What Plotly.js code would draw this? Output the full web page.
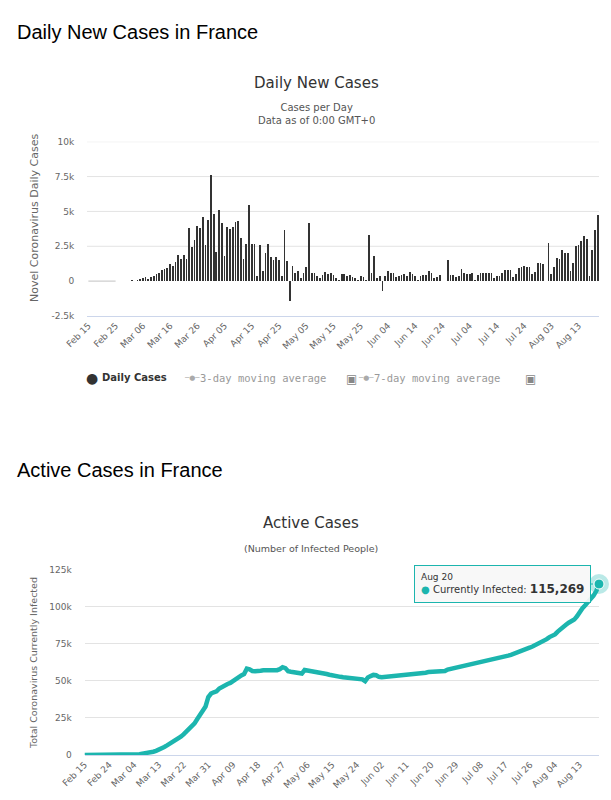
<!DOCTYPE html>
<html>
<head>
<meta charset="utf-8">
<script src="https://cdn.plot.ly/plotly-3.0.1.min.js"></script>
<style>html,body{margin:0;padding:0;background:#fff;}#chart{width:611px;height:800px;}</style>
</head>
<body>
<div id="chart"></div>
<script>
// ---------- DATA ----------
const startDate = '2020-02-15';

// Daily new cases (one value per day from Feb 15 to Aug 20)
const dailyCases = [
  0,0,0,0,0,0,0,0,0,0,0,
  10,20,20,40,30,60,20,
  73,140,190,330,180,290,
  370,500,600,780,840,920,1210,1100,1400,1860,1620,1850,1560,
  3840,2450,2930,3920,3810,4610,2600,4380,7580,
  4800,2100,5100,4200,1800,3900,3750,3850,4250,4300,3100,1600,2650,5450,2650,2650,
  400,2600,750,2000,2650,1750,1550,1700,1550,400,3700,1450,
  -1400,1100,600,750,250,550,1050,4150,600,600,400,250,
  450,650,500,550,450,250,50,500,500,350,450,300,200,50,350,300,100,
  3300,600,1800,250,350,-700,400,750,550,550,300,350,450,500,350,650,500,350,100,400,450,450,750,550,250,300,450,30,0,
  1500,450,450,300,400,850,600,500,500,550,100,450,550,550,600,600,600,250,400,400,550,800,800,800,300,500,950,1000,1100,1000,1000,500,650,1300,1300,1250,0,
  2750,500,1000,1650,1600,2250,2050,2050,750,1300,2500,2600,2850,3250,3000,400,2200,3700,4750
];

// Active (currently infected) cases, same days
const activeCases = [
  7,7,7,7,7,7,7,7,7,7,7,10,30,45,88,118,179,200,270,400,580,900,1080,
  1400,1700,2200,2800,3500,4400,5400,6500,7500,8500,9700,10900,12300,13900,
  15800,17900,19800,21300,24300,27000,30300,32700,39000,41400,42300,42900,44800,46000,
  46800,47900,48600,49900,51800,53100,53700,54600,58200,57700,56600,
  56400,56300,56800,57100,57000,56900,57000,56800,57200,57900,59200,58600,56500,56100,
  55900,55800,55600,54900,57300,57000,56800,56600,56400,56200,55700,55200,54600,54100,
  53600,53200,52900,52700,52400,52200,52000,51800,51600,51500,51300,51000,49800,
  52300,53200,54000,53800,52700,52500,52700,52800,52900,53000,53100,53200,53300,53400,
  53500,53700,54000,54200,54400,54600,55000,55500,55900,56100,56200,56300,56300,56400,56600,
  57600,58000,58300,58600,59100,59500,60000,60300,60700,61300,61600,62000,62400,62800,
  63100,63600,64100,64400,64700,65100,65700,66400,67000,67500,68100,68700,69300,70000,
  70800,71600,72500,73300,74100,75100,76200,77300,78100,79500,
  80500,81300,83200,85000,86500,87800,89200,90300,91300,93500,96500,99000,101000,103600,
  105300,107500,110500,115269
];

const dailyTickVals = [-2500, 0, 2500, 5000, 7500, 10000];
const dailyTickText = ['-2.5k', '0', '2.5k', '5k', '7.5k', '10k'];
const activeTickVals = [0, 25000, 50000, 75000, 100000, 125000];
const activeTickText = ['0', '25k', '50k', '75k', '100k', '125k'];
const monthNames = ['Jan','Feb','Mar','Apr','May','Jun','Jul','Aug','Sep','Oct','Nov','Dec'];

// ---------- BUILD ----------
function makeDates(start, n) {
  const t0 = new Date(start + 'T00:00:00Z').getTime();
  const out = [];
  for (let i = 0; i < n; i++) out.push(new Date(t0 + i * 864e5).toISOString().slice(0, 10));
  return out;
}
const dates = makeDates(startDate, dailyCases.length);
const activeDates = makeDates(startDate, activeCases.length);

// leading run of zero days (drawn as a flat light line)
let zeroRun = 0;
while (zeroRun < dailyCases.length && dailyCases[zeroRun] === 0) zeroRun++;

const TEAL = '#1cb5ae';
const DAY = 864e5;
const W = 611, H = 800;
const px = v => v / W;
const py = v => 1 - v / H;

const lastIdx = activeCases.length - 1;
const lastDate = activeDates[lastIdx];
const lastVal = activeCases[lastIdx];
const ld = new Date(lastDate + 'T00:00:00Z');
const lastLabel = monthNames[ld.getUTCMonth()] + ' ' + ld.getUTCDate();

const traces = [
  {
    type: 'bar', x: dates, y: dailyCases, xaxis: 'x', yaxis: 'y',
    width: DAY * 0.64, marker: {color: '#333333'}, showlegend: false, hoverinfo: 'skip'
  },
  {
    type: 'scatter', mode: 'lines', x: dates.slice(0, zeroRun), y: dailyCases.slice(0, zeroRun),
    xaxis: 'x', yaxis: 'y', line: {color: '#d6d6d6', width: 1.5}, showlegend: false, hoverinfo: 'skip'
  },
  {
    type: 'scatter', mode: 'lines', x: activeDates, y: activeCases, xaxis: 'x2', yaxis: 'y2',
    line: {color: TEAL, width: 4.5}, showlegend: false, hoverinfo: 'skip'
  },
  {
    type: 'scatter', mode: 'markers', x: [lastDate], y: [lastVal], xaxis: 'x2', yaxis: 'y2',
    marker: {size: 20, color: 'rgba(28,181,174,0.3)'}, cliponaxis: false, showlegend: false, hoverinfo: 'skip'
  },
  {
    type: 'scatter', mode: 'markers', x: [lastDate], y: [lastVal], xaxis: 'x2', yaxis: 'y2',
    marker: {size: 10, color: TEAL, line: {color: '#ffffff', width: 1}}, cliponaxis: false, showlegend: false, hoverinfo: 'skip'
  }
];

const tickFont = {family: 'DejaVu Sans', size: 9, color: '#666'};

const shapes = dailyTickVals.filter(v => v > dailyTickVals[0] && v !== 0).map(v => ({
  type: 'line', xref: 'x domain', yref: 'y', x0: 0, x1: 1, y0: v, y1: v,
  line: {color: '#e3e3e3', width: 1}, layer: 'below'
}));

function ann(text, x, y, opts) {
  return Object.assign({text: text, x: x, y: y, xref: 'paper', yref: 'paper', showarrow: false,
    xanchor: 'left', yanchor: 'middle', font: {family: 'DejaVu Sans', size: 10, color: '#333'}}, opts || {});
}

const monoLegend = {family: 'DejaVu Sans Mono', size: 10.5, color: '#999'};

const annotations = [
  ann('Daily New Cases in France', px(15), py(32), {font: {family: 'Liberation Sans', size: 20, color: '#000'}}),
  ann('Daily New Cases', px(316), py(83), {xanchor: 'center', font: {family: 'DejaVu Sans', size: 15, color: '#333'}}),
  ann('Cases per Day<br>Data as of 0:00 GMT+0', px(316), py(114), {xanchor: 'center', font: {family: 'DejaVu Sans', size: 10, color: '#555'}}),
  ann('Novel Coronavirus Daily Cases', px(35), py(218), {xanchor: 'center', textangle: -90, font: {family: 'DejaVu Sans', size: 11, color: '#666'}}),
  // legend
  ann('●', px(84), py(378), {font: {family: 'DejaVu Sans', size: 14, color: '#333'}}),
  ann('<b>Daily Cases</b>', px(100), py(378), {font: {family: 'DejaVu Sans', size: 10, color: '#333'}}),
  ann('─●─', px(182), py(378), {font: {family: 'DejaVu Sans', size: 7, color: '#aaa'}}),
  ann('3-day moving average', px(198), py(378), {font: monoLegend}),
  ann('▣', px(344), py(379), {font: {family: 'DejaVu Sans', size: 12, color: '#888'}}),
  ann('─●─', px(356), py(378), {font: {family: 'DejaVu Sans', size: 7, color: '#aaa'}}),
  ann('7-day moving average', px(372), py(378), {font: monoLegend}),
  ann('▣', px(523), py(379), {font: {family: 'DejaVu Sans', size: 12, color: '#888'}}),

  ann('Active Cases in France', px(15), py(470), {font: {family: 'Liberation Sans', size: 20, color: '#000'}}),
  ann('Active Cases', px(311), py(523), {xanchor: 'center', font: {family: 'DejaVu Sans', size: 15, color: '#333'}}),
  ann('(Number of Infected People)', px(311), py(548), {xanchor: 'center', font: {family: 'DejaVu Sans', size: 9.5, color: '#555'}}),
  ann('Total Coronavirus Currently Infected', px(33), py(663), {xanchor: 'center', textangle: -90, font: {family: 'DejaVu Sans', size: 9.5, color: '#666'}}),
  // tooltip
  {
    x: lastDate, y: lastVal, xref: 'x2', yref: 'y2', showarrow: true, arrowhead: 0, arrowwidth: 1,
    arrowcolor: TEAL, ax: -97, ay: 0, standoff: 6, align: 'left',
    text: '<span style="font-size:9px">' + lastLabel + '</span><br><span style="color:' + TEAL + '">●</span> Currently Infected: <b style="font-size:12px">' + lastVal.toLocaleString('en-US') + '</b>',
    font: {family: 'DejaVu Sans', size: 10, color: '#333'},
    bgcolor: 'rgba(247,247,247,0.92)', bordercolor: TEAL, borderwidth: 1, borderpad: 6
  }
];

const layout = {
  width: W, height: H,
  margin: {l: 0, r: 0, t: 0, b: 0},
  paper_bgcolor: '#fff', plot_bgcolor: '#fff',
  font: {family: 'DejaVu Sans', color: '#666'},
  showlegend: false,
  bargap: 0,
  xaxis: {
    domain: [px(87), px(599)], anchor: 'y', type: 'date',
    range: [new Date(new Date(startDate + 'T00:00:00Z').getTime() - DAY / 2).toISOString(),
            new Date(new Date(dates[dates.length - 1] + 'T00:00:00Z').getTime() + DAY / 2).toISOString()],
    tickmode: 'linear', tick0: startDate, dtick: DAY * 10, tickformat: '%b %d', tickangle: -45,
    tickfont: tickFont, showgrid: false, zeroline: false, showline: true, linecolor: '#ccd6eb', ticks: ''
  },
  yaxis: {
    domain: [py(316), py(141.7)], anchor: 'x', range: [dailyTickVals[0], dailyTickVals[dailyTickVals.length - 1]],
    tickmode: 'array', tickvals: dailyTickVals, ticktext: dailyTickText,
    tickfont: tickFont, showgrid: false, zeroline: false, showline: false, ticks: 'outside', ticklen: 10, tickcolor: 'rgba(0,0,0,0)'
  },
  xaxis2: {
    domain: [px(84.5), px(599)], anchor: 'y2', type: 'date',
    range: [startDate + ' 00:00', lastDate + ' 00:00'],
    tickmode: 'linear', tick0: startDate, dtick: DAY * 9, tickformat: '%b %d', tickangle: -45,
    tickfont: tickFont, showgrid: false, zeroline: false, showline: true, linecolor: '#ccd6eb', ticks: ''
  },
  yaxis2: {
    domain: [py(755), py(569.6)], anchor: 'x2', range: [0, activeTickVals[activeTickVals.length - 1]],
    tickmode: 'array', tickvals: activeTickVals, ticktext: activeTickText,
    tickfont: tickFont, showgrid: true, gridcolor: '#e3e3e3', zeroline: false, showline: false,
    ticks: 'outside', ticklen: 10, tickcolor: 'rgba(0,0,0,0)'
  },
  shapes: shapes,
  annotations: annotations
};

Plotly.newPlot('chart', traces, layout, {staticPlot: true, displayModeBar: false});
</script>
</body>
</html>
